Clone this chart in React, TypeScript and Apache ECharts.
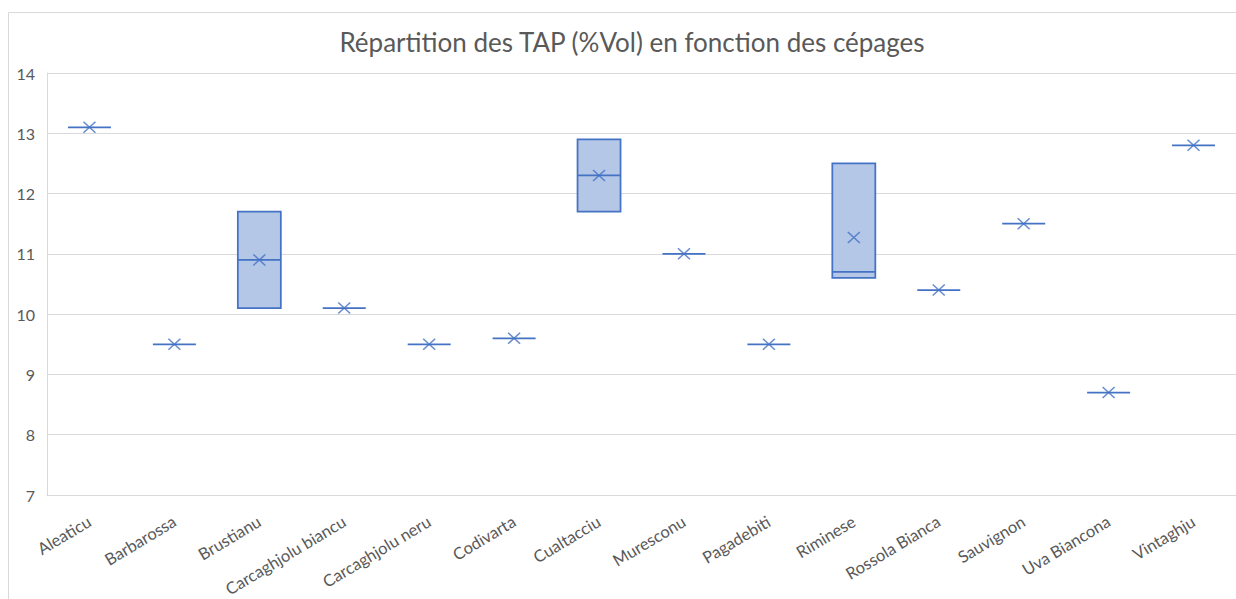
import React, { useEffect, useRef } from "react";
import * as echarts from "echarts";

const categories = [
  "Aleaticu", "Barbarossa", "Brustianu", "Carcaghjolu biancu", "Carcaghjolu neru",
  "Codivarta", "Cualtacciu", "Muresconu", "Pagadebiti", "Riminese",
  "Rossola Bianca", "Sauvignon", "Uva Biancona", "Vintaghju",
];
const minValues = [13.1, 9.5, 10.1, 10.1, 9.5, 9.6, 11.7, 11.0, 9.5, 10.6, 10.4, 11.5, 8.7, 12.8];
const q1Values = [13.1, 9.5, 10.1, 10.1, 9.5, 9.6, 11.7, 11.0, 9.5, 10.6, 10.4, 11.5, 8.7, 12.8];
const medianValues = [13.1, 9.5, 10.9, 10.1, 9.5, 9.6, 12.3, 11.0, 9.5, 10.7, 10.4, 11.5, 8.7, 12.8];
const q3Values = [13.1, 9.5, 11.7, 10.1, 9.5, 9.6, 12.9, 11.0, 9.5, 12.5, 10.4, 11.5, 8.7, 12.8];
const maxValues = [13.1, 9.5, 11.7, 10.1, 9.5, 9.6, 12.9, 11.0, 9.5, 12.5, 10.4, 11.5, 8.7, 12.8];
const meanValues = [13.1, 9.5, 10.9, 10.1, 9.5, 9.6, 12.3, 11.0, 9.5, 11.27, 10.4, 11.5, 8.7, 12.8];

const titleText = "Répartition des TAP (%Vol) en fonction des cépages";

export default function App() {
  const ref = useRef<HTMLDivElement>(null);
  useEffect(() => {
    if (!ref.current) return;
    const chart = echarts.init(ref.current, null, { renderer: "svg" });
    const boxData = categories.map((_, i) => [
      minValues[i], q1Values[i], medianValues[i], q3Values[i], maxValues[i],
    ]);
    chart.setOption({
      animation: false,
      backgroundColor: "#ffffff",
      textStyle: { fontFamily: "Lato, 'Open Sans', sans-serif" },
      title: {
        text: titleText,
        left: 627,
        top: 24,
        textAlign: "center",
        textStyle: { fontSize: 26, fontWeight: "normal", color: "#595959", fontFamily: "Lato, 'Open Sans', sans-serif" },
      },
      graphic: [
        {
          type: "rect",
          shape: { x: 8.5, y: 12.5, width: 1400, height: 800 },
          style: { fill: "none", stroke: "#d9d9d9", lineWidth: 1 },
          silent: true,
          z: -10,
        },
      ],
      grid: { left: 47, right: 0, top: 73, bottom: 104, containLabel: false, outerBoundsMode: "none" },
      xAxis: {
        type: "category",
        data: categories,
        boundaryGap: true,
        axisTick: { show: false },
        axisLine: { show: true, lineStyle: { color: "#d9d9d9", width: 1 } },
        axisLabel: {
          rotate: 31,
          interval: 0,
          margin: 25,
          color: "#595959",
          fontSize: 16.5,
          fontFamily: "Lato, 'Open Sans', sans-serif",
        },
      },
      yAxis: {
        type: "value",
        min: 7,
        max: 14,
        interval: 1,
        axisLine: { show: true, lineStyle: { color: "#d9d9d9", width: 1 } },
        axisTick: { show: false },
        splitLine: { show: true, lineStyle: { color: "#d9d9d9", width: 1 } },
        axisLabel: {
          color: "#595959",
          fontSize: 16,
          margin: 12,
          fontFamily: "Lato, 'Open Sans', sans-serif",
        },
      },
      series: [
        {
          type: "boxplot",
          data: boxData,
          boxWidth: [43, 43],
          itemStyle: { color: "#b4c7e7", borderColor: "#4472c4", borderWidth: 1.75 },
          emphasis: { disabled: true },
        },
        {
          type: "scatter",
          data: meanValues.map((v, i) => [i, v]),
          symbol: "path://M0,0L10,10M0,10L10,0",
          symbolSize: [12, 11],
          itemStyle: { color: "rgba(0,0,0,0)", borderColor: "#4472c4", borderWidth: 1.5 },
          z: 5,
        },
      ],
    });
    return () => chart.dispose();
  }, []);
  return (
    <div
      ref={ref}
      style={{ position: "fixed", left: 0, top: 0, width: 1236, height: 599 }}
    />
  );
}
